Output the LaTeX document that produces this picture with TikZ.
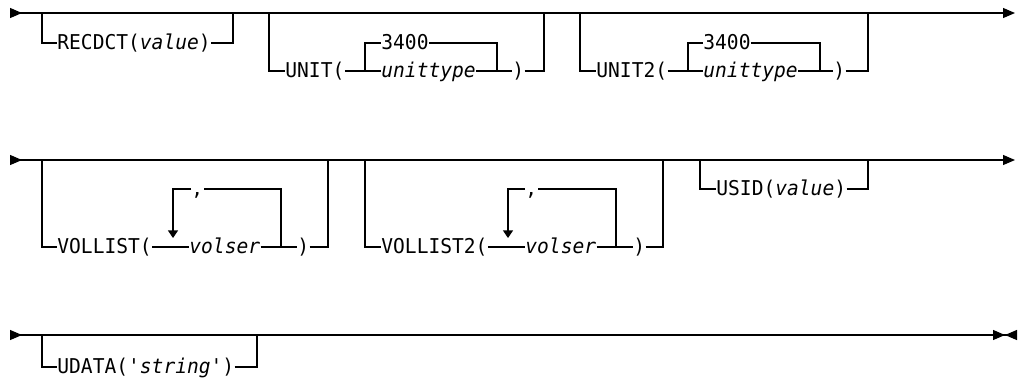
\documentclass[tikz,border=0pt]{standalone}
\usepackage{fontspec}
\setmonofont[FakeStretch=0.96]{DejaVu Sans Mono}
\usetikzlibrary{arrows.meta}

\begin{document}
\begin{tikzpicture}[
    x=0.5pt, y=-0.5pt,
    rail/.style={line width=0.6pt},
    kw/.style={inner sep=0pt, anchor=west, text height=6pt, text depth=0pt, font=\fontsize{10.2}{12}\ttfamily},
    goin/.style={rail, {Triangle[reversed, length=6pt, width=5pt]}-{Triangle[length=6pt, width=5pt]}},
    goend/.style={rail, {Triangle[reversed, length=6pt, width=5pt]}-{Triangle[length=6pt, width=5pt, sep=0pt] Triangle[reversed, length=6pt, width=5pt]}},
    loopback/.style={rail, -{Triangle[length=3.8pt, width=5pt]}}
]
\useasboundingbox (0,0) rectangle (1018,377);

% First row
\coordinate (s1) at (10,13);
\coordinate (e1) at (1015,13);
\draw[goin] (s1) -- (e1);

% RECDCT
\node[kw] (recdct) at (57,43) {RECDCT(\textit{value})};
\coordinate (recL) at (42,13);
\coordinate (recR) at (233,13);
\draw[rail] (recL) |- (recdct.west);
\draw[rail] (recdct.east) -| (recR);

% UNIT
\node[kw] (unitkw) at (285,71) {UNIT(};
\node[kw] (unitdef) at (381,43) {3400};
\node[kw] (unittype) at (381,71) {\textit{unittype}};
\node[kw] (unitend) at (512,71) {)};
\coordinate (unitL) at (269,13);
\coordinate (unitR) at (544,13);
\coordinate (unitj1) at (365,71);
\coordinate (unitj2) at (497,71);
\draw[rail] (unitL) |- (unitkw.west);
\draw[rail] (unitkw.east) -- (unittype.west);
\draw[rail] (unitj1) |- (unitdef.west);
\draw[rail] (unitdef.east) -| (unitj2);
\draw[rail] (unittype.east) -- (unitend.west);
\draw[rail] (unitend.east) -| (unitR);

% UNIT2
\node[kw] (unit2kw) at (596,71) {UNIT2(};
\node[kw] (unit2def) at (703,43) {3400};
\node[kw] (unit2type) at (703,71) {\textit{unittype}};
\node[kw] (unit2end) at (833,71) {)};
\coordinate (unit2L) at (580,13);
\coordinate (unit2R) at (868,13);
\coordinate (unit2j1) at (688,71);
\coordinate (unit2j2) at (820,71);
\draw[rail] (unit2L) |- (unit2kw.west);
\draw[rail] (unit2kw.east) -- (unit2type.west);
\draw[rail] (unit2j1) |- (unit2def.west);
\draw[rail] (unit2def.east) -| (unit2j2);
\draw[rail] (unit2type.east) -- (unit2end.west);
\draw[rail] (unit2end.east) -| (unit2R);

% Second row
\coordinate (s2) at (10,160);
\coordinate (e2) at (1015,160);
\draw[goin] (s2) -- (e2);

% VOLLIST
\node[kw] (vollist) at (57,247) {VOLLIST(};
\node[kw] (volser) at (189,247) {\textit{volser}};
\node[kw] (volend) at (297,247) {)};
\node[kw] (comma1) at (191,189) {,};
\coordinate (volL) at (42,160);
\coordinate (volR) at (328,160);
\coordinate (volj1) at (173,238);
\coordinate (volj2) at (281,247);
\draw[rail] (volL) |- (vollist.west);
\draw[rail] (vollist.east) -- (volser.west);
\draw[rail] (volser.east) -- (volend.west);
\draw[rail] (volend.east) -| (volR);
\draw[rail] (volj2) |- (comma1.east);
\draw[loopback] (comma1.west) -| (volj1);

% VOLLIST2
\node[kw] (vollist2) at (381,247) {VOLLIST2(};
\node[kw] (volser2) at (525,247) {\textit{volser}};
\node[kw] (vol2end) at (633,247) {)};
\node[kw] (comma2) at (525,189) {,};
\coordinate (vol2L) at (365,160);
\coordinate (vol2R) at (663,160);
\coordinate (vol2j1) at (508,238);
\coordinate (vol2j2) at (616,247);
\draw[rail] (vol2L) |- (vollist2.west);
\draw[rail] (vollist2.east) -- (volser2.west);
\draw[rail] (volser2.east) -- (vol2end.west);
\draw[rail] (vol2end.east) -| (vol2R);
\draw[rail] (vol2j2) |- (comma2.east);
\draw[loopback] (comma2.west) -| (vol2j1);

% USID
\node[kw] (usid) at (716,189) {USID(\textit{value})};
\coordinate (usidL) at (700,160);
\coordinate (usidR) at (868,160);
\draw[rail] (usidL) |- (usid.west);
\draw[rail] (usid.east) -| (usidR);

% Third row
\coordinate (s3) at (10,335);
\coordinate (e3) at (1017,335);
\draw[goend] (s3) -- (e3);

% UDATA
\node[kw] (udata) at (57,367) {UDATA('\textit{string}')};
\coordinate (udataL) at (42,335);
\coordinate (udataR) at (257,335);
\draw[rail] (udataL) |- (udata.west);
\draw[rail] (udata.east) -| (udataR);

\end{tikzpicture}
\end{document}
